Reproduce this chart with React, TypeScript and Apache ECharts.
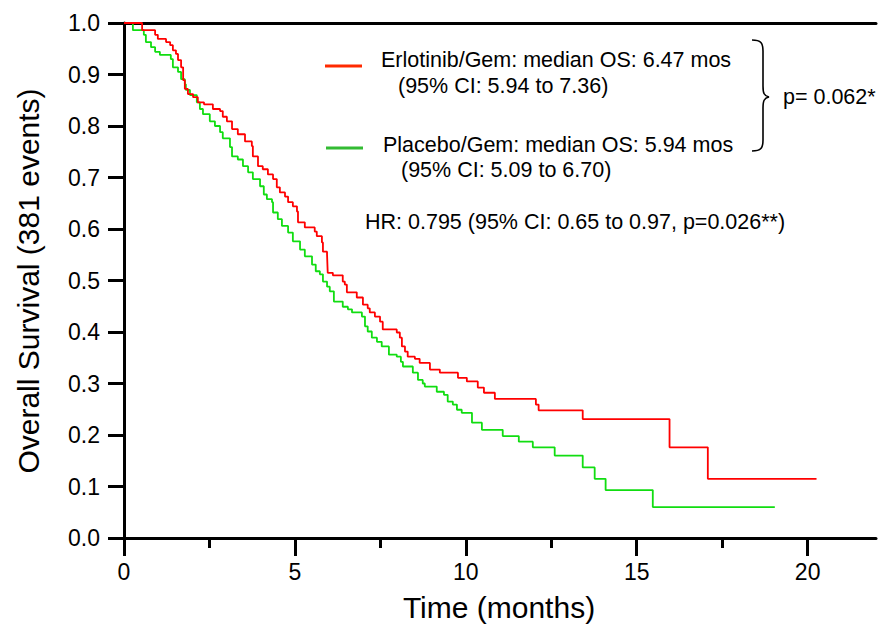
import React, { useEffect, useRef } from "react";
import * as echarts from "echarts";

// Kaplan-Meier estimates (time in months, survival proportion)
const erlotinibTime = [0, 0.53, 0.91, 0.99, 1.23, 1.35, 1.43, 1.52, 1.58, 1.67, 1.73, 1.78, 1.87, 2.02, 2.16, 2.34, 2.6, 2.81, 2.89, 3.01, 3.16, 3.33, 3.54, 3.74, 3.77, 3.92, 4.06, 4.21, 4.36, 4.47, 4.56, 4.71, 4.8, 4.94, 5.06, 5.09, 5.29, 5.58, 5.64, 5.79, 5.82, 5.94, 5.96, 6.11, 6.4, 6.46, 6.52, 6.81, 6.99, 7.13, 7.19, 7.34, 7.49, 7.57, 7.98, 8.07, 8.13, 8.22, 8.3, 8.51, 8.65, 8.95, 9.24, 9.77, 10.03, 10.35, 10.53, 10.85, 12.05, 12.13, 13.42, 15.96, 17.08, 20.26];
const erlotinibSurv = [1.0, 0.986, 0.977, 0.969, 0.963, 0.957, 0.947, 0.94, 0.928, 0.914, 0.889, 0.872, 0.862, 0.856, 0.846, 0.842, 0.833, 0.829, 0.818, 0.809, 0.794, 0.784, 0.77, 0.761, 0.741, 0.722, 0.716, 0.706, 0.697, 0.681, 0.671, 0.663, 0.652, 0.644, 0.634, 0.613, 0.603, 0.595, 0.586, 0.574, 0.556, 0.551, 0.515, 0.51, 0.498, 0.492, 0.477, 0.467, 0.453, 0.446, 0.438, 0.43, 0.42, 0.405, 0.399, 0.389, 0.372, 0.362, 0.352, 0.348, 0.34, 0.327, 0.321, 0.311, 0.304, 0.292, 0.282, 0.27, 0.259, 0.248, 0.231, 0.176, 0.115, 0.115];

const placeboTime = [0, 0.26, 0.58, 0.64, 0.79, 0.91, 1.05, 1.37, 1.43, 1.58, 1.67, 1.78, 1.81, 1.93, 2.13, 2.22, 2.31, 2.51, 2.66, 2.81, 2.89, 3.1, 3.16, 3.33, 3.48, 3.63, 3.77, 3.98, 4.09, 4.18, 4.33, 4.36, 4.5, 4.62, 4.8, 4.94, 5.15, 5.29, 5.5, 5.61, 5.73, 5.82, 5.94, 6.02, 6.14, 6.4, 6.55, 6.67, 6.96, 7.05, 7.13, 7.25, 7.4, 7.54, 7.75, 7.98, 8.1, 8.16, 8.45, 8.6, 8.74, 8.8, 9.15, 9.36, 9.47, 9.62, 9.74, 9.88, 10.18, 10.47, 11.08, 11.55, 11.96, 12.6, 13.42, 13.77, 14.09, 15.47, 19.04];
const placeboSurv = [1.0, 0.986, 0.977, 0.963, 0.953, 0.944, 0.938, 0.93, 0.914, 0.905, 0.891, 0.881, 0.87, 0.86, 0.846, 0.833, 0.823, 0.809, 0.8, 0.788, 0.776, 0.759, 0.741, 0.735, 0.722, 0.71, 0.697, 0.683, 0.667, 0.658, 0.652, 0.632, 0.619, 0.606, 0.593, 0.576, 0.56, 0.547, 0.531, 0.518, 0.512, 0.498, 0.488, 0.479, 0.459, 0.449, 0.444, 0.438, 0.43, 0.411, 0.401, 0.389, 0.381, 0.372, 0.356, 0.352, 0.342, 0.333, 0.321, 0.307, 0.3, 0.294, 0.284, 0.278, 0.265, 0.259, 0.249, 0.243, 0.224, 0.21, 0.198, 0.187, 0.176, 0.16, 0.137, 0.115, 0.093, 0.06, 0.06];

const xMajorTicks = [0, 5, 10, 15, 20];
const xMinorTicks = [2.5, 7.5, 12.5, 17.5];

const legendLine1 = ["Erlotinib/Gem: median OS: 6.47 mos", "(95% CI: 5.94 to 7.36)"];
const legendLine2 = ["Placebo/Gem: median OS: 5.94 mos", "(95% CI: 5.09 to 6.70)"];
const pText = "p= 0.062*";
const hrText = "HR: 0.795 (95% CI: 0.65 to 0.97, p=0.026**)";
const xTitle = "Time (months)";
const yTitle = "Overall Survival (381 events)";

const FONT = "'Liberation Sans', Arial, sans-serif";
const RED = "#ff0000";
const GREEN = "#11dd11";
const TXT = `21.5px ${FONT}`;

echarts.graphic.registerShape(
  "brace",
  echarts.graphic.extendPath(
    "M0,0 C9,0 11,3 11,11 L11,46 C11,53 12,56 17,57 C12,58 11,61 11,68 L11,100 C11,108 9,111 0,111",
    {}
  )
);

export default function App() {
  const ref = useRef<HTMLDivElement>(null);
  useEffect(() => {
    if (!ref.current) return;
    const chart = echarts.init(ref.current, undefined, { renderer: "svg" });
    const black = { color: "#000", width: 3 };
    const option: any = {
      animation: false,
      grid: { left: 124, right: 3, top: 23, bottom: 92, containLabel: false },
      xAxis: [
        {
          type: "value",
          min: 0,
          max: 22,
          position: "bottom",
          axisLine: { show: true, onZero: false, lineStyle: black },
          axisTick: { show: true, customValues: xMajorTicks, length: 18, lineStyle: black },
          axisLabel: { customValues: xMajorTicks, fontSize: 23, color: "#000", margin: 22, fontFamily: FONT },
          splitLine: { show: false },
        },
        {
          type: "value",
          min: 0,
          max: 22,
          position: "bottom",
          axisLine: { show: false },
          axisTick: { show: true, customValues: xMinorTicks, length: 10, lineStyle: black },
          axisLabel: { show: false },
          splitLine: { show: false },
        },
        {
          type: "value",
          min: 0,
          max: 22,
          position: "top",
          axisLine: { show: true, onZero: false, lineStyle: black },
          axisTick: { show: false },
          axisLabel: { show: false },
          splitLine: { show: false },
        },
      ],
      yAxis: {
        type: "value",
        min: 0,
        max: 1,
        interval: 0.1,
        axisLine: { show: true, onZero: false, lineStyle: black },
        axisTick: { show: true, length: 16, lineStyle: black },
        axisLabel: {
          fontSize: 23,
          color: "#000",
          margin: 24,
          fontFamily: FONT,
          formatter: (v: number) => v.toFixed(1),
        },
        splitLine: { show: false },
      },
      series: [
        {
          name: "Erlotinib/Gem",
          type: "line",
          step: "end",
          symbol: "none",
          xAxisIndex: 0,
          lineStyle: { color: RED, width: 1.8 },
          itemStyle: { color: RED },
          data: erlotinibTime.map((t, i) => [t, erlotinibSurv[i]]),
          z: 3,
        },
        {
          name: "Placebo/Gem",
          type: "line",
          step: "end",
          symbol: "none",
          xAxisIndex: 0,
          lineStyle: { color: GREEN, width: 1.8 },
          itemStyle: { color: GREEN },
          data: placeboTime.map((t, i) => [t, placeboSurv[i]]),
          z: 2,
        },
      ],
      graphic: [
        { type: "line", shape: { x1: 325, y1: 66, x2: 362, y2: 66 }, style: { stroke: "#ff2a00", lineWidth: 3 } },
        { type: "text", x: 381, y: 60, style: { text: legendLine1[0], font: TXT, fill: "#000", verticalAlign: "middle" } },
        { type: "text", x: 398, y: 86, style: { text: legendLine1[1], font: TXT, fill: "#000", verticalAlign: "middle" } },
        { type: "line", shape: { x1: 326, y1: 148, x2: 363, y2: 148 }, style: { stroke: "#33bb33", lineWidth: 3 } },
        { type: "text", x: 383, y: 145, style: { text: legendLine2[0], font: TXT, fill: "#000", verticalAlign: "middle" } },
        { type: "text", x: 401, y: 170, style: { text: legendLine2[1], font: TXT, fill: "#000", verticalAlign: "middle" } },
        { type: "brace", x: 752, y: 40, style: { stroke: "#000", fill: "none", lineWidth: 1.6 } },
        { type: "text", x: 783, y: 97, style: { text: pText, font: TXT, fill: "#000", verticalAlign: "middle" } },
        { type: "text", x: 365, y: 222, style: { text: hrText, font: TXT, fill: "#000", verticalAlign: "middle" } },
        { type: "text", x: 499, y: 607, style: { text: xTitle, font: `30px ${FONT}`, fill: "#000", align: "center", verticalAlign: "middle" } },
        { type: "text", x: 28, y: 281, rotation: Math.PI / 2, style: { text: yTitle, font: `30px ${FONT}`, fill: "#000", align: "center", verticalAlign: "middle" } },
      ],
    };
    chart.setOption(option);
    return () => chart.dispose();
  }, []);
  return (
    <div
      ref={ref}
      style={{ position: "fixed", left: 0, top: 0, width: 879, height: 630, background: "#fff" }}
    />
  );
}
